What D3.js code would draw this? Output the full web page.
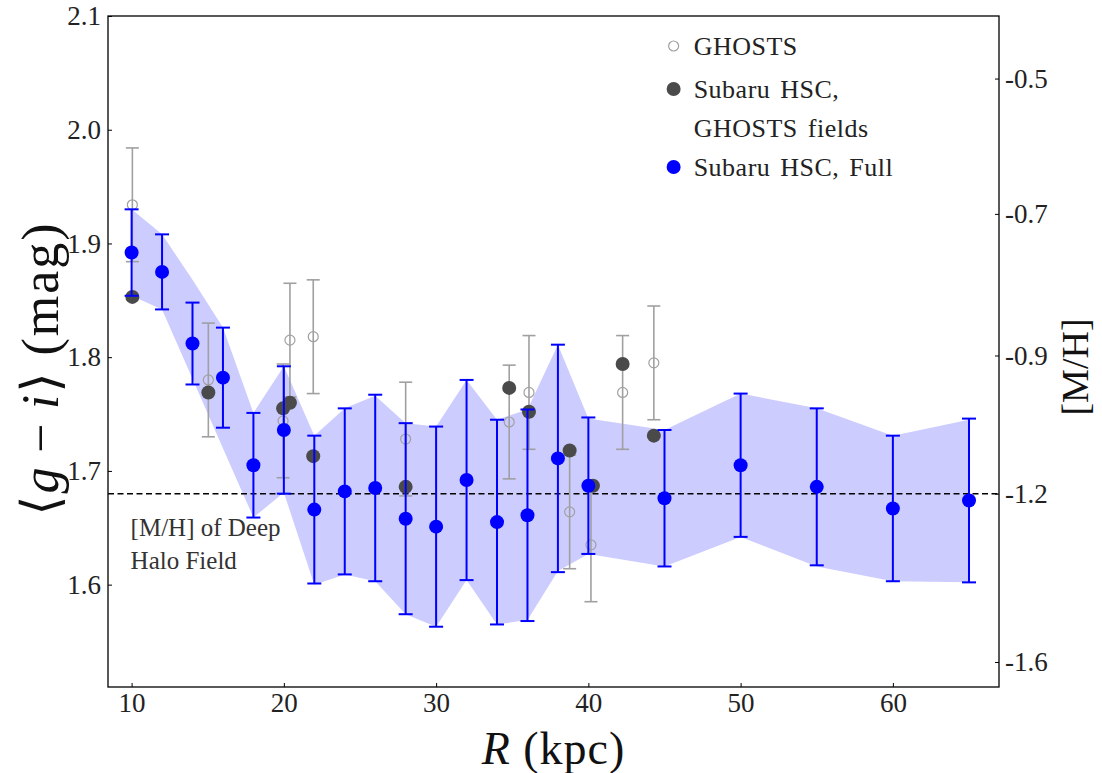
<!DOCTYPE html>
<html>
<head>
<meta charset="utf-8">
<script src="https://cdnjs.cloudflare.com/ajax/libs/d3/7.8.5/d3.min.js"></script>
<style>
  body { margin: 0; background: #fff; }
  svg text { font-family: "Liberation Serif", "DejaVu Serif", serif; }
</style>
</head>
<body>
<svg id="chart" width="1102" height="773"></svg>
<script>
// Subaru HSC, Full
var fullR   = [10, 12, 14, 16, 18, 20, 22, 24, 26, 28, 30, 32, 34, 36, 38, 40, 45, 50, 55, 60, 65];
var fullVal = [1.892, 1.875, 1.812, 1.782, 1.705, 1.736, 1.666, 1.682, 1.685, 1.658, 1.651,
               1.692, 1.655, 1.661, 1.711, 1.687, 1.676, 1.705, 1.686, 1.667, 1.674];
var fullErr = [0.038, 0.033, 0.036, 0.044, 0.046, 0.056, 0.065, 0.073, 0.082, 0.084, 0.088,
               0.088, 0.090, 0.093, 0.100, 0.060, 0.060, 0.063, 0.069, 0.064, 0.072];

// shaded band (edges as drawn)
var bandHi = [1.930, 1.908, 1.868, 1.826, 1.751, 1.792, 1.731, 1.755, 1.766, 1.742, 1.739,
              1.780, 1.745, 1.754, 1.811, 1.746, 1.736, 1.768, 1.755, 1.731, 1.745];
var bandLo = [1.854, 1.842, 1.781, 1.720, 1.659, 1.681, 1.600, 1.609, 1.603, 1.574, 1.563,
              1.604, 1.565, 1.569, 1.612, 1.627, 1.616, 1.642, 1.616, 1.603, 1.602];

// GHOSTS
var ghostR   = [10.05, 15.04, 19.95, 20.4, 21.93, 28.0, 34.8, 36.1, 38.77, 40.17, 42.25, 44.3];
var ghostVal = [1.934, 1.780, 1.744, 1.815, 1.818, 1.728, 1.743, 1.769, 1.664, 1.635, 1.769, 1.795];
var ghostErr = [0.050, 0.050, 0.050, 0.050, 0.050, 0.050, 0.050, 0.050, 0.050, 0.050, 0.050, 0.050];

// Subaru HSC, GHOSTS fields
var hscFieldR   = [10.05, 15.04, 19.95, 20.4, 21.93, 28.0, 34.8, 36.1, 38.77, 40.3, 42.25, 44.3];
var hscFieldVal = [1.853, 1.769, 1.755, 1.760, 1.713, 1.686, 1.773, 1.752, 1.718, 1.687, 1.794, 1.731];

var xTicks = [10, 20, 30, 40, 50, 60];
var yTicks = [1.6, 1.7, 1.8, 1.9, 2.0, 2.1];
var mhLabels = ['-0.5', '-0.7', '-0.9', '-1.2', '-1.6'];
var mhAtColor = [2.045, 1.926, 1.8015, 1.680, 1.532];
var deepHalo = 1.68;

var margin = {top: 16, right: 103, bottom: 86, left: 108},
    width = 1102 - margin.left - margin.right,
    height = 773 - margin.top - margin.bottom;

var svg = d3.select('#chart');
var g = svg.append('g').attr('transform', 'translate(' + margin.left + ',' + margin.top + ')');

var x = d3.scaleLinear().domain([8.45, 66.97]).range([0, width]);
var y = d3.scaleLinear().domain([1.51, 2.1]).range([height, 0]);

// band
var band = d3.area()
    .x(function(d, i) { return x(fullR[i]); })
    .y0(function(d, i) { return y(bandLo[i]); })
    .y1(function(d, i) { return y(bandHi[i]); });
g.append('path').datum(fullR).attr('d', band).attr('fill', '#ccccff');

// deep halo field line
g.append('line')
    .attr('x1', 0).attr('x2', width)
    .attr('y1', y(deepHalo)).attr('y2', y(deepHalo))
    .attr('stroke', '#000').attr('stroke-width', 1.5).attr('stroke-dasharray', '6,3.5');

function errorBars(sel, rs, vals, errs, color, lw, cap) {
    var eb = sel.append('g').selectAll('g').data(rs).enter().append('g');
    eb.append('line')
        .attr('x1', function(d) { return x(d); }).attr('x2', function(d) { return x(d); })
        .attr('y1', function(d, i) { return y(vals[i] - errs[i]); })
        .attr('y2', function(d, i) { return y(vals[i] + errs[i]); })
        .attr('stroke', color).attr('stroke-width', lw);
    [-1, 1].forEach(function(s) {
        eb.append('line')
            .attr('x1', function(d) { return x(d) - cap; }).attr('x2', function(d) { return x(d) + cap; })
            .attr('y1', function(d, i) { return y(vals[i] + s * errs[i]); })
            .attr('y2', function(d, i) { return y(vals[i] + s * errs[i]); })
            .attr('stroke', color).attr('stroke-width', lw);
    });
}

// GHOSTS
errorBars(g, ghostR, ghostVal, ghostErr, '#a0a0a0', 1.6, 6.5);
g.append('g').selectAll('circle').data(ghostR).enter().append('circle')
    .attr('cx', function(d) { return x(d); })
    .attr('cy', function(d, i) { return y(ghostVal[i]); })
    .attr('r', 5).attr('fill', 'none').attr('stroke', '#a0a0a0').attr('stroke-width', 1.2);

// HSC in GHOSTS fields
g.append('g').selectAll('circle').data(hscFieldR).enter().append('circle')
    .attr('cx', function(d) { return x(d); })
    .attr('cy', function(d, i) { return y(hscFieldVal[i]); })
    .attr('r', 7).attr('fill', '#4a4a4a');

// HSC full
errorBars(g, fullR, fullVal, fullErr, '#0000ff', 2, 7);
g.append('g').selectAll('circle').data(fullR).enter().append('circle')
    .attr('cx', function(d) { return x(d); })
    .attr('cy', function(d, i) { return y(fullVal[i]); })
    .attr('r', 7).attr('fill', '#0000ff');

// axes (ticks point inward)
var fs = '27px';
g.append('g').attr('transform', 'translate(0,' + height + ')')
    .call(d3.axisBottom(x).tickValues(xTicks).tickSize(-4).tickPadding(6).tickFormat(d3.format('d')))
    .call(function(a) { a.select('.domain').remove(); a.selectAll('text').attr('font-size', fs).attr('fill', '#222'); });
g.append('g')
    .call(d3.axisLeft(y).tickValues(yTicks).tickSize(-4).tickPadding(7).tickFormat(d3.format('.1f')))
    .call(function(a) { a.select('.domain').remove(); a.selectAll('text').attr('font-size', fs).attr('fill', '#222'); });
g.append('g').attr('transform', 'translate(' + width + ',0)')
    .call(d3.axisRight(y).tickValues(mhAtColor).tickSize(-4).tickPadding(6)
        .tickFormat(function(d, i) { return mhLabels[i]; }))
    .call(function(a) { a.select('.domain').remove(); a.selectAll('text').attr('font-size', fs).attr('fill', '#222'); });

g.append('rect').attr('width', width).attr('height', height)
    .attr('fill', 'none').attr('stroke', '#000').attr('stroke-width', 1.3);

// annotation
var ann = g.append('text').attr('x', x(10) - 1).attr('y', y(1.68) + 42)
    .attr('font-size', '25px').attr('fill', '#333');
ann.append('tspan').text('[M/H] of Deep');
ann.append('tspan').attr('x', x(10) - 1).attr('dy', 33).text('Halo Field');

// legend
var leg = g.append('g').attr('transform', 'translate(' + (x(45.6)) + ',0)');
leg.append('circle').attr('cx', 0).attr('cy', 30).attr('r', 5)
    .attr('fill', 'none').attr('stroke', '#a0a0a0').attr('stroke-width', 1.2);
leg.append('circle').attr('cx', 0).attr('cy', 73).attr('r', 7).attr('fill', '#4a4a4a');
leg.append('circle').attr('cx', 0).attr('cy', 151).attr('r', 7).attr('fill', '#0000ff');
var lt = [['GHOSTS', 39], ['Subaru HSC,', 82], ['GHOSTS fields', 121], ['Subaru HSC, Full', 160]];
lt.forEach(function(d) {
    leg.append('text').attr('x', 20).attr('y', d[1]).attr('font-size', '26px')
        .attr('word-spacing', '3px').attr('letter-spacing', '0.5px').attr('fill', '#222').text(d[0]);
});

// axis titles
svg.append('text')
    .attr('transform', 'translate(' + (margin.left + width / 2) + ',764)')
    .attr('text-anchor', 'middle').attr('font-size', '46px').attr('letter-spacing', '1px').attr('fill', '#111')
    .call(function(t) {
        t.append('tspan').attr('font-style', 'italic').text('R');
        t.append('tspan').text(' (kpc)');
    });
svg.append('text')
    .attr('transform', 'translate(58,' + (margin.top + height / 2 + 17) + ') rotate(-90)')
    .attr('text-anchor', 'middle').attr('font-size', '52px').attr('letter-spacing', '2px').attr('fill', '#111')
    .call(function(t) {
        t.append('tspan').text('\u27E8');
        t.append('tspan').attr('font-style', 'italic').text('g');
        t.append('tspan').text('\u2009\u2212\u2009');
        t.append('tspan').attr('font-style', 'italic').text('i');
        t.append('tspan').text('\u27E9 (mag)');
    });
svg.append('text')
    .attr('transform', 'translate(1088,' + 367 + ') rotate(-90)')
    .attr('text-anchor', 'middle').attr('font-size', '38px').attr('fill', '#111')
    .text('[M/H]');
</script>
</body>
</html>
